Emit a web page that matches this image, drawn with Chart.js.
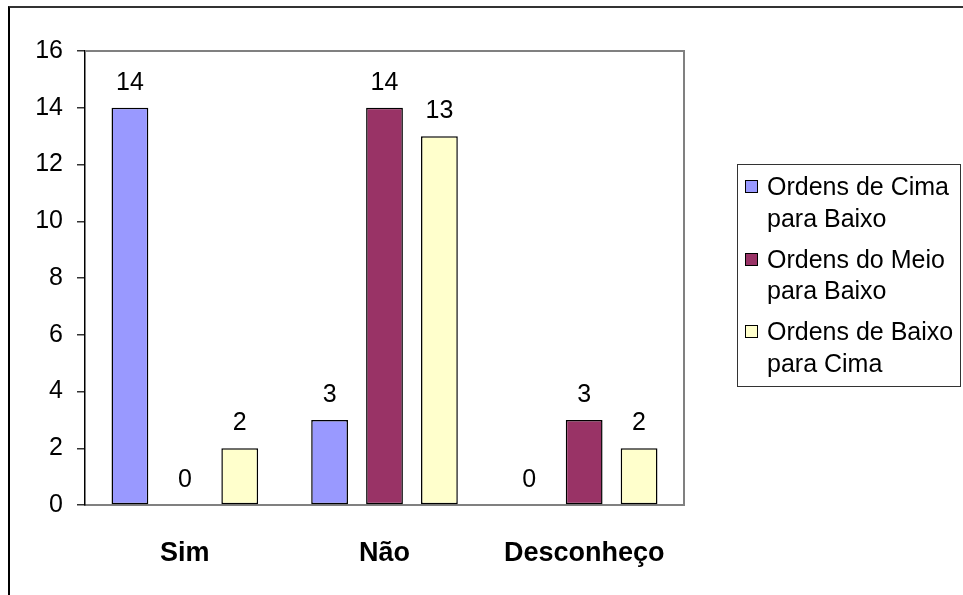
<!DOCTYPE html>
<html>
<head>
<meta charset="utf-8">
<script src="https://cdn.jsdelivr.net/npm/chart.js@4.4.1/dist/chart.umd.min.js"></script>
<style>
  html, body { margin: 0; padding: 0; background: #fff; }
  body { width: 963px; height: 595px; position: relative; overflow: hidden;
         font-family: "Liberation Sans", Arial, sans-serif; }
  #frame { position: absolute; left: 8px; top: 6px; width: 970px; height: 600px;
           border-left: 2px solid #000; border-top: 2px solid #333; }
  #wrap { position: absolute; left: 0; top: 0; width: 963px; height: 595px; }
  #legend { position: absolute; left: 737px; top: 164px; width: 224px; height: 223px;
            border: 1.5px solid #333; box-sizing: border-box; padding: 6px 0 0 7px; }
  .item { display: flex; align-items: flex-start; margin-bottom: 9.5px; }
  .sw { width: 11px; height: 11px; border: 1.5px solid #000; margin-top: 9px; flex: none; }
  .txt { margin-left: 9px; width: 194px; font-size: 25px; line-height: 31.5px; color: #000; }
</style>
</head>
<body>
<div id="frame"></div>
<div id="wrap"><canvas id="chart"></canvas></div>
<div id="legend"></div>
<script>
// ── Data ──────────────────────────────────────────────────────────────────
var categories = ['Sim', 'Não', 'Desconheço'];
var seriesNames = ['Ordens de Cima para Baixo', 'Ordens do Meio para Baixo', 'Ordens de Baixo para Cima'];
var cimaBaixo = [14, 3, 0];
var meioBaixo = [0, 14, 3];
var baixoCima = [2, 13, 2];
var yTicks = [0, 2, 4, 6, 8, 10, 12, 14, 16];

var colors = ['#9999FF', '#993366', '#FFFFCC'];
var FONT = '"Liberation Sans", Arial, sans-serif';

// value labels above each bar (zeros included, as in the original)
var valueLabels = {
    id: 'valueLabels',
    afterDatasetsDraw: function (chart) {
        var ctx = chart.ctx;
        ctx.save();
        ctx.fillStyle = '#000';
        ctx.font = '25px ' + FONT;
        ctx.textAlign = 'center';
        ctx.textBaseline = 'alphabetic';
        chart.data.datasets.forEach(function (ds, i) {
            chart.getDatasetMeta(i).data.forEach(function (bar, j) {
                ctx.fillText(String(ds.data[j]), bar.x, bar.y - 18);
            });
        });
        ctx.restore();
    }
};

// gray top/right edges of the plot area
var plotFrame = {
    id: 'plotFrame',
    beforeDatasetsDraw: function (chart) {
        var a = chart.chartArea, ctx = chart.ctx;
        ctx.save();
        ctx.strokeStyle = '#808080';
        ctx.lineWidth = 2;
        ctx.beginPath();
        ctx.moveTo(a.left, a.top);
        ctx.lineTo(a.right, a.top);
        ctx.lineTo(a.right, a.bottom);
        ctx.stroke();
        ctx.restore();
    }
};

var datasets = [cimaBaixo, meioBaixo, baixoCima].map(function (vals, i) {
    return {
        label: seriesNames[i],
        data: vals,
        backgroundColor: colors[i],
        borderColor: '#000',
        borderWidth: 1.5,
        borderSkipped: false,
        categoryPercentage: 0.825,
        barPercentage: 0.67
    };
});

new Chart(document.getElementById('chart').getContext('2d'), {
    type: 'bar',
    data: { labels: categories, datasets: datasets },
    options: {
        responsive: true,
        maintainAspectRatio: false,
        animation: false,
        layout: { padding: { left: 0, top: 51, right: 279, bottom: 0 } },
        plugins: { legend: { display: false }, tooltip: { enabled: false } },
        scales: {
            x: {
                grid: { display: false, drawTicks: false },
                border: { display: true, color: '#808080', width: 2 },
                ticks: { color: '#000', padding: 32, font: { family: FONT, size: 27, weight: 'bold' } },
                afterFit: function (s) { s.height = 90; }
            },
            y: {
                min: 0,
                max: 16,
                afterBuildTicks: function (s) { s.ticks = yTicks.map(function (v) { return { value: v }; }); },
                grid: { display: true, drawOnChartArea: false, drawTicks: true, tickLength: 8, color: '#333', lineWidth: 1.5 },
                border: { display: true, color: '#000', width: 1.5 },
                ticks: { color: '#000', padding: 14, font: { family: FONT, size: 25 } },
                afterFit: function (s) { s.width = 85; }
            }
        }
    },
    plugins: [plotFrame, valueLabels]
});

// ── HTML legend ───────────────────────────────────────────────────────────
var legend = document.getElementById('legend');
seriesNames.forEach(function (name, i) {
    var item = document.createElement('div');
    item.className = 'item';
    var sw = document.createElement('div');
    sw.className = 'sw';
    sw.style.background = colors[i];
    var txt = document.createElement('div');
    txt.className = 'txt';
    txt.textContent = name;
    item.appendChild(sw);
    item.appendChild(txt);
    legend.appendChild(item);
});
</script>
</body>
</html>
